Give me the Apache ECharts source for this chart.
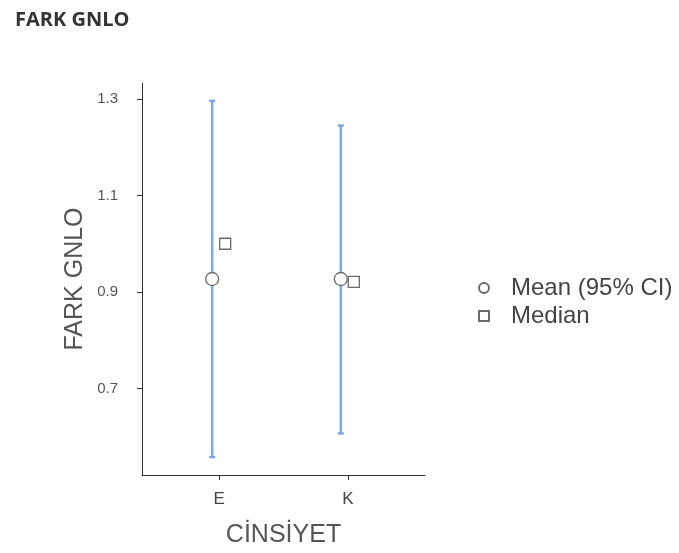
<!DOCTYPE html>
<html>
<head>
<meta charset="utf-8">
<script src="https://cdn.jsdelivr.net/npm/echarts@6/dist/echarts.min.js"></script>
<style>
html,body{margin:0;padding:0;background:#fff;}
#chart{width:679px;height:553px;}
</style>
</head>
<body>
<div id="chart"></div>
<script>
const categories = ['E', 'K'];
const meanValues = [0.927, 0.927];
const ciLower = [0.558, 0.607];
const ciUpper = [1.296, 1.245];
const medianValues = [1.0, 0.921];
const yTicks = [0.7, 0.9, 1.1, 1.3];
const xTicks = [1, 2];

const chart = echarts.init(document.getElementById('chart'));
const barColor = '#7ea8ee';
const markStroke = '#6b6b6b';
const meanDodge = -7;
const medianDodge = 6;

const ciData = categories.map((c, i) => [i + 1, ciLower[i], ciUpper[i]]);
const meanData = categories.map((c, i) => [i + 1, meanValues[i]]);
const medianData = categories.map((c, i) => [i + 1, medianValues[i]]);

chart.setOption({
  animation: false,
  backgroundColor: '#fff',
  title: {
    text: 'FARK GNLO',
    left: 10, top: 5,
    textStyle: {fontFamily: 'Open Sans', fontWeight: 'bold', fontSize: 20, color: '#333'}
  },
  grid: {left: 142, right: 254, top: 83, bottom: 76},
  legend: {
    orient: 'vertical',
    left: 473, top: 271,
    itemWidth: 10, itemHeight: 10, itemGap: 4,
    selectedMode: false,
    textStyle: {fontFamily: 'Liberation Sans', fontSize: 24, color: '#444', lineHeight: 23, padding: [0, 0, 0, 17]},
    data: ['Mean (95% CI)', 'Median']
  },
  xAxis: {
    type: 'value',
    min: 0.4, max: 2.6,
    name: 'CİNSİYET',
    nameLocation: 'middle',
    nameGap: 48,
    nameTextStyle: {fontFamily: 'Liberation Sans', fontSize: 25, color: '#555'},
    splitLine: {show: false},
    axisLine: {lineStyle: {color: '#333', width: 1}},
    axisTick: {show: true, length: 5, customValues: xTicks, lineStyle: {color: '#333'}},
    axisLabel: {
      customValues: xTicks, margin: 16,
      fontFamily: 'Liberation Sans', fontSize: 17, color: '#444',
      formatter: v => categories[Math.round(v) - 1]
    }
  },
  yAxis: {
    type: 'value',
    min: 0.521, max: 1.333,
    name: 'FARK GNLO',
    nameLocation: 'middle',
    nameGap: 54,
    nameTextStyle: {fontFamily: 'Liberation Sans', fontSize: 25, color: '#555'},
    splitLine: {show: false},
    axisLine: {show: true, lineStyle: {color: '#333', width: 1}},
    axisTick: {show: true, length: 5, customValues: yTicks, lineStyle: {color: '#333'}},
    axisLabel: {
      customValues: yTicks, margin: 24,
      fontFamily: 'Liberation Sans', fontSize: 15, color: '#555',
      formatter: v => v.toFixed(1)
    }
  },
  series: [
    {
      type: 'custom',
      name: 'CI',
      z: 1,
      data: ciData,
      renderItem: function (params, api) {
        const lo = api.coord([api.value(0), api.value(1)]);
        const hi = api.coord([api.value(0), api.value(2)]);
        const x = lo[0] + meanDodge;
        const st = {stroke: barColor, lineWidth: 2.5};
        return {
          type: 'group',
          children: [
            {type: 'line', shape: {x1: x, y1: lo[1], x2: x, y2: hi[1]}, style: st},
            {type: 'line', shape: {x1: x - 3, y1: lo[1], x2: x + 3, y2: lo[1]}, style: st},
            {type: 'line', shape: {x1: x - 3, y1: hi[1], x2: x + 3, y2: hi[1]}, style: st}
          ]
        };
      }
    },
    {
      type: 'scatter',
      name: 'Mean (95% CI)',
      z: 3,
      symbol: 'circle',
      symbolSize: 13,
      symbolOffset: [meanDodge, 0],
      itemStyle: {color: '#fff', borderColor: markStroke, borderWidth: 1.3, opacity: 1},
      data: meanData
    },
    {
      type: 'scatter',
      name: 'Median',
      z: 3,
      symbol: 'rect',
      symbolSize: 11,
      symbolOffset: [medianDodge, 0],
      itemStyle: {color: '#fff', borderColor: markStroke, borderWidth: 1.3, opacity: 1},
      data: medianData
    }
  ]
});
</script>
</body>
</html>
